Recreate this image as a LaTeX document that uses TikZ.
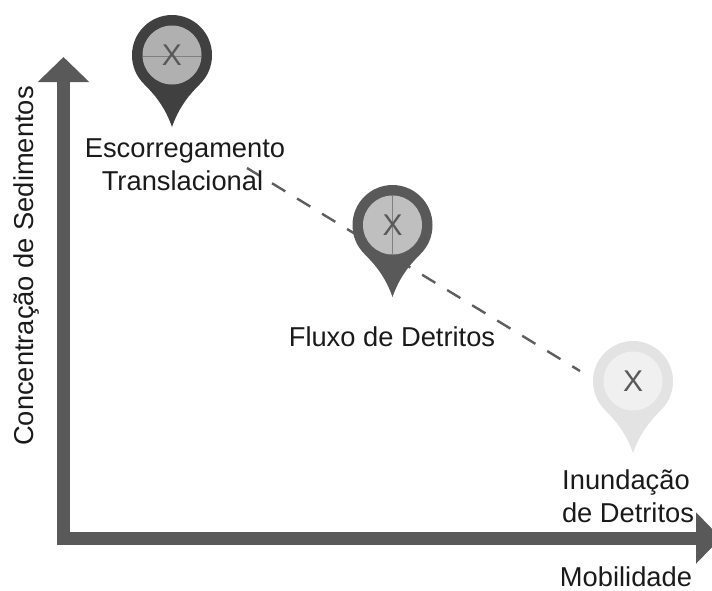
\documentclass[tikz,border=0pt]{standalone}
\usepackage{fontspec}
\setmainfont{Liberation Sans}
\usetikzlibrary{arrows.meta}
\definecolor{axisgray}{HTML}{595959}
\definecolor{dashgray}{HTML}{5E5E5E}
\definecolor{txtgray}{HTML}{1A1A1A}
\definecolor{pinAouter}{HTML}{404040}
\definecolor{pinAinner}{HTML}{B0B0B0}
\definecolor{pinBouter}{HTML}{595959}
\definecolor{pinBinner}{HTML}{BFBFBF}
\definecolor{pinCouter}{HTML}{E3E3E3}
\definecolor{pinCinner}{HTML}{F0F0F0}
\tikzset{
  x=1pt,y=-1pt,
  lbl/.style={font=\fontsize{27.3}{30}\selectfont,text=txtgray,inner sep=0pt,anchor=base},
  axisline/.style={draw=axisgray,line width=13pt,-{Triangle[length=25pt,width=50pt,fill=axisgray]}},
  trend/.style={draw=dashgray,line width=2.4pt,dash pattern=on 15.5pt off 13.8pt},
  pinmark/.style={font=\fontsize{30}{32}\selectfont,text=axisgray,inner sep=0pt,anchor=center},
  hair/.style={draw=gray,line width=0.5pt}
}
\newcommand{\pinshape}[3]{% x,y,colour
  \fill[#3] (#1,#2+72) .. controls (#1-7,#2+52) and (#1-17,#2+40) .. (#1-28,#2+29)
    .. controls (#1-36,#2+21) and (#1-40,#2+11) .. (#1-40,#2)
    .. controls (#1-40,#2-22) and (#1-22,#2-40) .. (#1,#2-40)
    .. controls (#1+22,#2-40) and (#1+40,#2-22) .. (#1+40,#2)
    .. controls (#1+40,#2+11) and (#1+36,#2+21) .. (#1+28,#2+29)
    .. controls (#1+17,#2+40) and (#1+7,#2+52) .. (#1,#2+72) -- cycle;
}
\begin{document}
\begin{tikzpicture}
\path[use as bounding box] (0,0) rectangle (712,590);
\clip (0,0) rectangle (712,590);
\coordinate (corner) at (63.5,544);
\coordinate (ytip) at (63.5,57);
\coordinate (xstart) at (57,538);
\coordinate (xtip) at (721,538);
\coordinate (trendA) at (247,168);
\coordinate (trendB) at (580,371);
\draw[trend] (trendA) -- (trendB);
\pinshape{172}{55}{pinAouter}
\fill[pinAinner] (172,55) circle[radius=29.5];
\draw[hair] (143,56) -- (201,56);
\node[pinmark] (x1) at (172,55) {X};
\pinshape{392.5}{225}{pinBouter}
\fill[pinBinner] (392.5,225) circle[radius=29.5];
\draw[hair] (392.5,196) -- (392.5,254);
\node[pinmark] (x2) at (392.5,225) {X};
\pinshape{633}{381}{pinCouter}
\fill[pinCinner] (633,381) circle[radius=29.5];
\node[pinmark] (x3) at (633,381) {X};
\draw[axisline] (corner) -- (ytip);
\draw[axisline] (xstart) -- (xtip);
\node[lbl] (t1) at (185,157) {Escorregamento};
\node[lbl] (t2) at (182.5,190) {Translacional};
\node[lbl] (t3) at (392,346) {Fluxo de Detritos};
\node[lbl] (t4) at (626,489) {Inundação};
\node[lbl] (t5) at (628,522) {de Detritos};
\node[lbl] (t6) at (626,586) {Mobilidade};
\node[lbl,rotate=90] (t7) at (33,266) {Concentração de Sedimentos};
\end{tikzpicture}
\end{document}
